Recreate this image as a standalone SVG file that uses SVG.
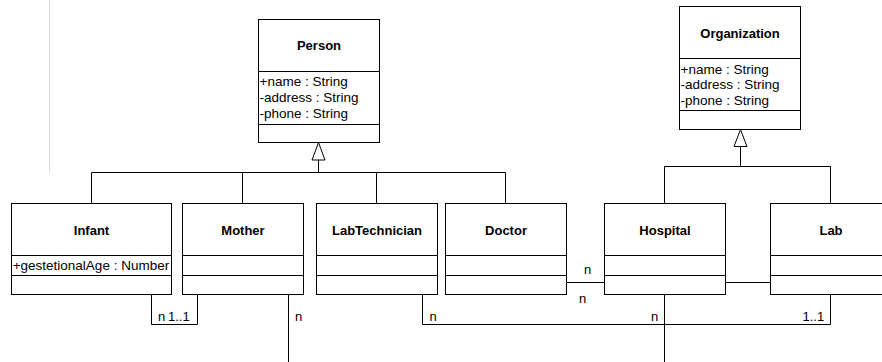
<svg xmlns="http://www.w3.org/2000/svg" width="882" height="362" viewBox="0 0 882 362">
<style>
.box{fill:#fff;stroke:#000;stroke-width:1}
.sep{stroke:#000;stroke-width:1}
.t{font-family:"Liberation Sans",Arial,sans-serif;font-size:13px;font-weight:bold;text-anchor:middle;fill:#000}
.a{font-family:"Liberation Sans",Arial,sans-serif;font-size:13.5px;fill:#000}
.l{font-family:"Liberation Sans",Arial,sans-serif;font-size:13px;fill:#000}
.c{fill:none;stroke:#000;stroke-width:1}
.tri{fill:#fff;stroke:#000;stroke-width:1}
</style>
<rect width="882" height="362" fill="#fff"/>
<line x1="49.5" y1="0" x2="49.5" y2="172" stroke="#d8d8d8" stroke-width="1"/>
<g id="connectors">
<path class="c" d="M318.5,160 V172.5 M91.5,172.5 H505.5 M91.5,172.5 V203.5 M242.5,172.5 V203.5 M376.5,172.5 V203.5 M505.5,172.5 V203.5"/>
<path class="tri" d="M318.5,142.5 L312,160 L325,160 Z"/>
<path class="c" d="M740.5,146.5 V166.5 M664.5,166.5 H830.5 M664.5,166.5 V203.5 M830.5,166.5 V203.5"/>
<path class="tri" d="M740.5,129.5 L734,146.5 L747,146.5 Z"/>
<path class="c" d="M151.5,294.5 V324.5 H197.5 V294.5"/>
<path class="c" d="M288.5,294.5 V362"/>
<path class="c" d="M422.5,294.5 V324.5 H830.5 V294.5"/>
<path class="c" d="M664.5,294.5 V362"/>
<path class="c" d="M566.5,282.5 H604.5"/>
<path class="c" d="M725.5,282.5 H770.5"/>
<text class="l" x="158" y="321">n</text>
<text class="l" x="168" y="321">1..1</text>
<text class="l" x="295" y="321">n</text>
<text class="l" x="429.5" y="321">n</text>
<text class="l" x="651" y="320.5">n</text>
<text class="l" x="802.5" y="320.5">1..1</text>
<text class="l" x="584" y="274">n</text>
<text class="l" x="579" y="302.5">n</text>
</g>
<g id="person">
<rect class="box" x="258.5" y="19.5" width="121" height="123"/>
<line class="sep" x1="258.5" y1="71.5" x2="379.5" y2="71.5"/>
<line class="sep" x1="258.5" y1="124.5" x2="379.5" y2="124.5"/>
<text class="t" x="319" y="50">Person</text>
<text class="a" x="259.5" y="86.2">+name : String</text>
<text class="a" x="259.5" y="102.2">-address : String</text>
<text class="a" x="259.5" y="117.8">-phone : String</text>
</g>
<g id="organization">
<rect class="box" x="679.5" y="6.5" width="121" height="123"/>
<line class="sep" x1="679.5" y1="58.5" x2="800.5" y2="58.5"/>
<line class="sep" x1="679.5" y1="110.5" x2="800.5" y2="110.5"/>
<text class="t" x="740" y="38">Organization</text>
<text class="a" x="680.5" y="73.8">+name : String</text>
<text class="a" x="680.5" y="89.2">-address : String</text>
<text class="a" x="680.5" y="104.5">-phone : String</text>
</g>
<g id="infant">
<rect class="box" x="11.5" y="203.5" width="160" height="91"/>
<line class="sep" x1="11.5" y1="255.5" x2="171.5" y2="255.5"/>
<line class="sep" x1="11.5" y1="275.5" x2="171.5" y2="275.5"/>
<text class="t" x="91.5" y="234.5">Infant</text>
<text class="a" x="12.7" y="270">+gestetionalAge : Number</text>
</g>
<g id="mother">
<rect class="box" x="182.5" y="203.5" width="121" height="91"/>
<line class="sep" x1="182.5" y1="255.5" x2="303.5" y2="255.5"/>
<line class="sep" x1="182.5" y1="275.5" x2="303.5" y2="275.5"/>
<text class="t" x="243" y="234.5">Mother</text>
</g>
<g id="labtechnician">
<rect class="box" x="316.5" y="203.5" width="121" height="91"/>
<line class="sep" x1="316.5" y1="255.5" x2="437.5" y2="255.5"/>
<line class="sep" x1="316.5" y1="275.5" x2="437.5" y2="275.5"/>
<text class="t" x="377" y="234.5">LabTechnician</text>
</g>
<g id="doctor">
<rect class="box" x="445.5" y="203.5" width="121" height="91"/>
<line class="sep" x1="445.5" y1="255.5" x2="566.5" y2="255.5"/>
<line class="sep" x1="445.5" y1="275.5" x2="566.5" y2="275.5"/>
<text class="t" x="506" y="234.5">Doctor</text>
</g>
<g id="hospital">
<rect class="box" x="604.5" y="203.5" width="121" height="91"/>
<line class="sep" x1="604.5" y1="255.5" x2="725.5" y2="255.5"/>
<line class="sep" x1="604.5" y1="275.5" x2="725.5" y2="275.5"/>
<text class="t" x="665" y="234.5">Hospital</text>
</g>
<g id="lab">
<rect class="box" x="770.5" y="203.5" width="121" height="91"/>
<line class="sep" x1="770.5" y1="255.5" x2="891.5" y2="255.5"/>
<line class="sep" x1="770.5" y1="275.5" x2="891.5" y2="275.5"/>
<text class="t" x="831" y="234.5">Lab</text>
</g>
</svg>
